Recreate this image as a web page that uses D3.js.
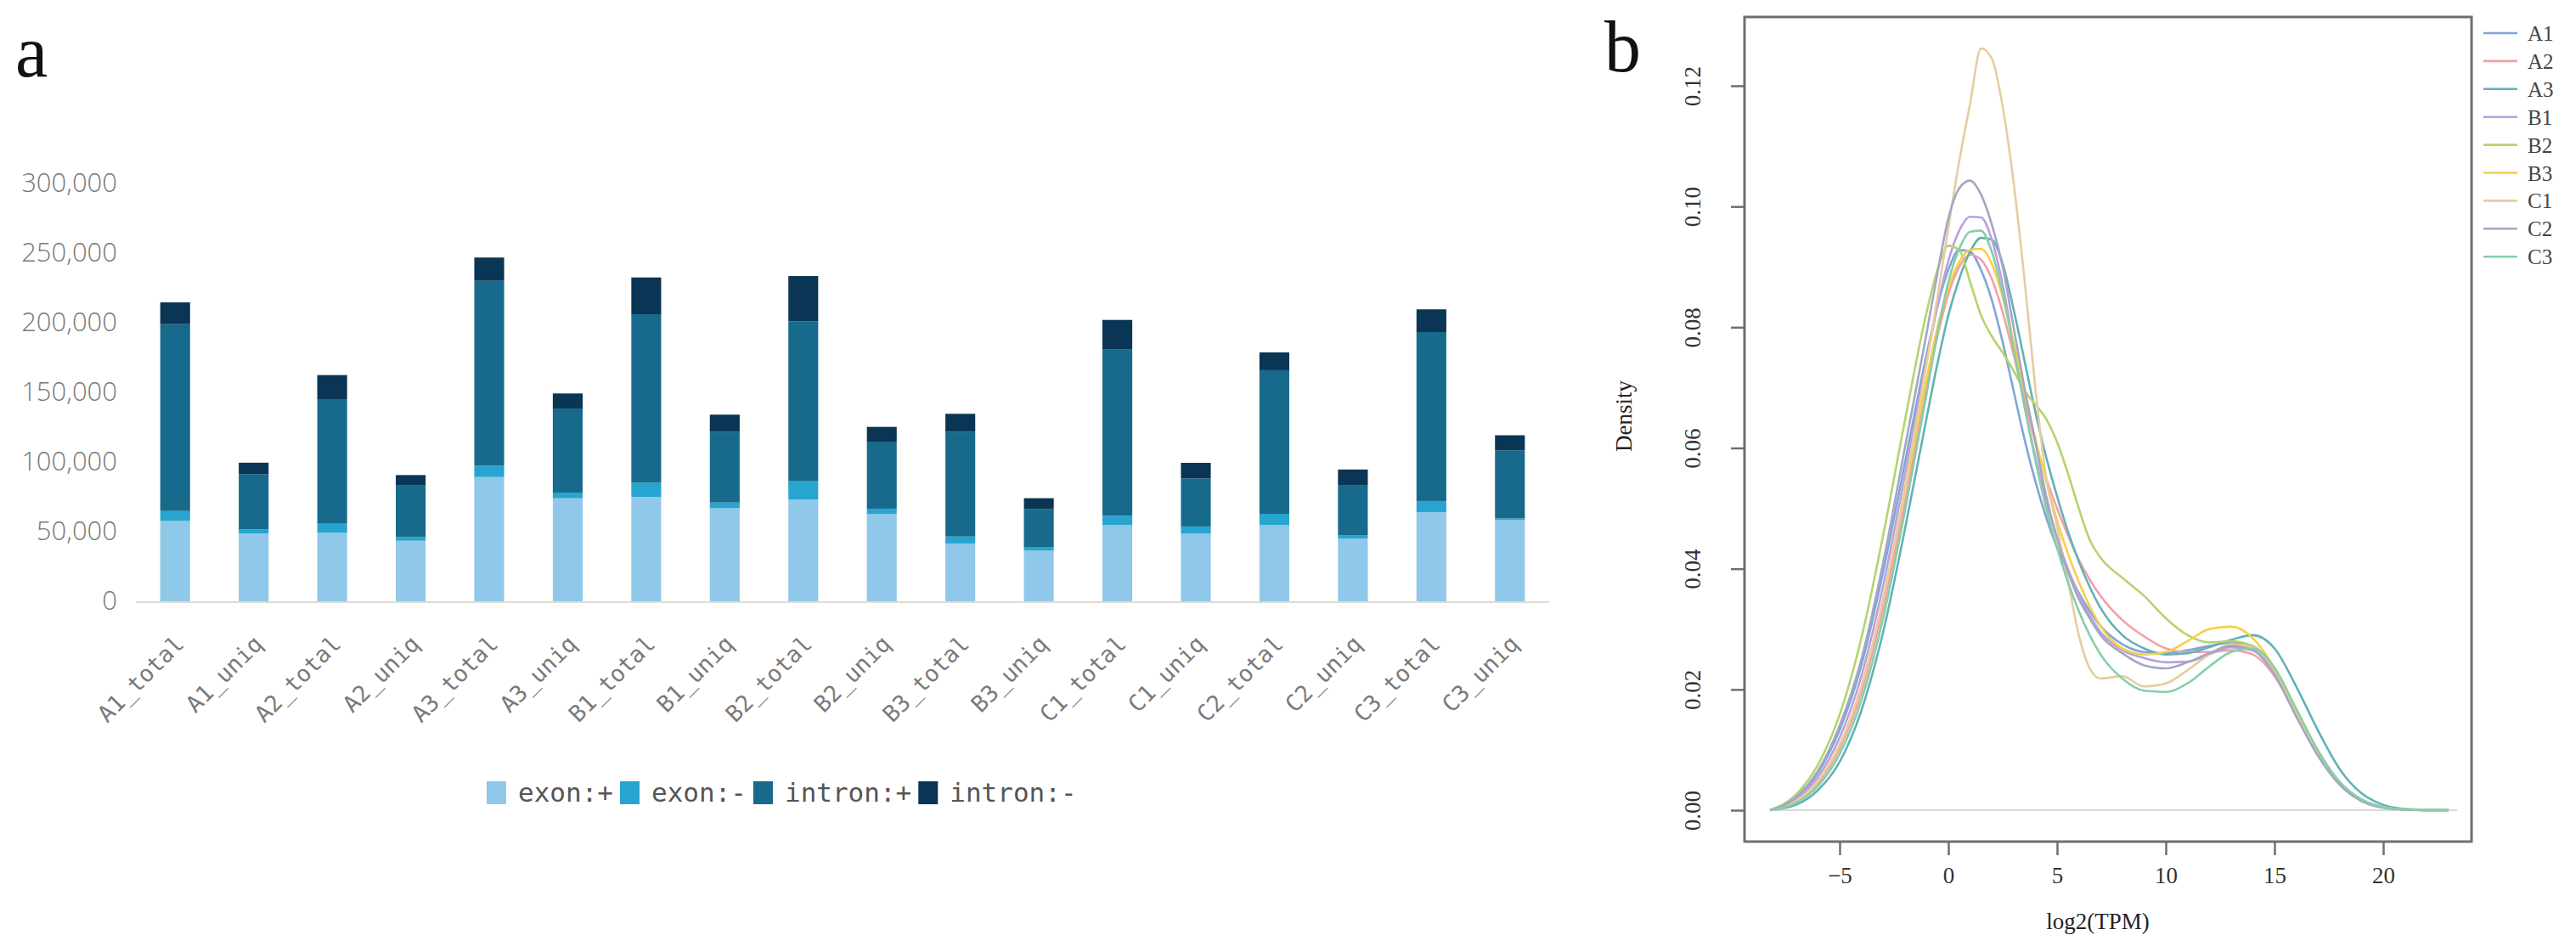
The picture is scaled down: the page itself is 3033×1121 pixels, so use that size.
<!DOCTYPE html>
<html>
<head>
<meta charset="utf-8">
<script src="https://cdn.jsdelivr.net/npm/d3@7"></script>
<style>
  html, body { margin: 0; padding: 0; background: #fff; }
  svg { display: block; }
</style>
</head>
<body>
<svg id="chart" width="3033" height="1121"></svg>
<script>
// ---------------- Panel a data ----------------
const categories = ["A1_total","A1_uniq","A2_total","A2_uniq","A3_total","A3_uniq",
  "B1_total","B1_uniq","B2_total","B2_uniq","B3_total","B3_uniq",
  "C1_total","C1_uniq","C2_total","C2_uniq","C3_total","C3_uniq"];
const seriesKeys = ["exon:+","exon:-","intron:+","intron:-"];
const exonPlus   = [57700,48600,49200,43500,89200,74000,75000,66900,73000,62800,41500,36400,54700,48600,54700,45000,64000,58400];
const exonMinus  = [7100,3000,6500,2600,8100,4000,10200,4000,13200,3700,5000,2600,6700,5100,8100,2500,8000,1100];
const intronPlus = [134200,39700,89400,37000,132800,60400,120900,50900,114800,48100,75300,27300,119300,34500,103100,36000,121300,48800];
const intronMinus= [15600,8200,17300,7500,16700,10800,26400,12200,32500,10600,12800,7700,21300,11200,12800,11100,16300,10900];
const barTicks = [0,50000,100000,150000,200000,250000,300000];

// ---------------- Panel b data ----------------
const tpmGrid = [-8.2,-7,-6,-5,-4,-3,-2,-1,-0.5,0,0.5,1,1.5,2,2.5,3,3.5,4,4.5,5,5.5,6,6.5,7,8,9,10,11,12,13,14,15,16,17,18,19,20,21,22,23];
const densA1 = [0,0.0021,0.0062,0.0133,0.0240,0.0395,0.0575,0.0755,0.0835,0.0895,0.0928,0.0925,0.0895,0.0845,0.0775,0.0695,0.0615,0.0545,0.0485,0.0435,0.0395,0.0360,0.0330,0.0305,0.0275,0.0262,0.0260,0.0265,0.0272,0.0278,0.0272,0.0232,0.0162,0.0095,0.0045,0.0017,0.0005,0.0001,0,0];
const densA2 = [0,0.0014,0.0045,0.0102,0.0195,0.0335,0.0510,0.0700,0.0785,0.0855,0.0900,0.0920,0.0912,0.0880,0.0825,0.0755,0.0680,0.0610,0.0550,0.0500,0.0455,0.0415,0.0382,0.0355,0.0315,0.0288,0.0268,0.0262,0.0262,0.0265,0.0258,0.0222,0.0158,0.0093,0.0044,0.0016,0.0005,0.0001,0,0];
const densA3 = [0,0.0009,0.0033,0.0080,0.0165,0.0295,0.0465,0.0650,0.0740,0.0820,0.0880,0.0925,0.0948,0.0945,0.0905,0.0830,0.0745,0.0660,0.0585,0.0520,0.0462,0.0412,0.0370,0.0335,0.0290,0.0268,0.0258,0.0260,0.0270,0.0282,0.0290,0.0268,0.0205,0.0132,0.0068,0.0028,0.0009,0.0002,0.00005,0];
const densB1 = [0,0.0018,0.0055,0.0120,0.0222,0.0372,0.0555,0.0745,0.0835,0.0910,0.0960,0.0983,0.0982,0.0945,0.0870,0.0770,0.0670,0.0585,0.0512,0.0452,0.0400,0.0358,0.0322,0.0295,0.0265,0.0252,0.0245,0.0246,0.0258,0.0270,0.0265,0.0228,0.0160,0.0094,0.0044,0.0016,0.0005,0.0001,0,0];
const densB2 = [0,0.0026,0.0075,0.0158,0.0285,0.0455,0.0645,0.0825,0.0895,0.0935,0.0928,0.0875,0.0820,0.0785,0.0758,0.0728,0.0695,0.0672,0.0648,0.0610,0.0558,0.0500,0.0448,0.0418,0.0385,0.0355,0.0318,0.0290,0.0278,0.0280,0.0272,0.0232,0.0162,0.0094,0.0044,0.0016,0.0005,0.0001,0,0];
const densB3 = [0,0.0015,0.0048,0.0108,0.0205,0.0350,0.0530,0.0715,0.0800,0.0865,0.0908,0.0928,0.0930,0.0905,0.0850,0.0775,0.0695,0.0615,0.0545,0.0480,0.0425,0.0378,0.0338,0.0305,0.0268,0.0258,0.0262,0.0280,0.0300,0.0304,0.0285,0.0235,0.0162,0.0094,0.0044,0.0016,0.0005,0.0001,0,0];
const densC1 = [0,0.0015,0.0048,0.0108,0.0205,0.0350,0.0535,0.0740,0.0850,0.0965,0.1075,0.1170,0.1262,0.1245,0.1165,0.1040,0.0880,0.0700,0.0550,0.0470,0.0380,0.0290,0.0235,0.0218,0.0222,0.0205,0.0210,0.0232,0.0258,0.0275,0.0270,0.0228,0.0158,0.0092,0.0043,0.0016,0.0005,0.0001,0,0];
const densC2 = [0,0.0022,0.0065,0.0140,0.0250,0.0410,0.0600,0.0790,0.0890,0.0980,0.1030,0.1043,0.1020,0.0970,0.0900,0.0800,0.0700,0.0610,0.0520,0.0450,0.0395,0.0350,0.0318,0.0290,0.0260,0.0240,0.0235,0.0245,0.0260,0.0272,0.0265,0.0225,0.0155,0.0090,0.0042,0.0015,0.0004,0.0001,0,0];
const densC3 = [0,0.0012,0.0040,0.0093,0.0182,0.0318,0.0495,0.0690,0.0790,0.0875,0.0930,0.0958,0.0960,0.0925,0.0855,0.0765,0.0670,0.0580,0.0500,0.0435,0.0378,0.0330,0.0290,0.0258,0.0218,0.0198,0.0196,0.0210,0.0238,0.0262,0.0268,0.0236,0.0168,0.0099,0.0047,0.0018,0.0005,0.0001,0,0];
const sampleNames = ["A1","A2","A3","B1","B2","B3","C1","C2","C3"];
const sampleDens = [densA1,densA2,densA3,densB1,densB2,densB3,densC1,densC2,densC3];
const xTicksB = [-5,0,5,10,15,20];
const yTicksB = [0,0.02,0.04,0.06,0.08,0.10,0.12];

// ---------------- Drawing ----------------
const svg = d3.select("#chart");

// ===== Panel a =====
const barColors = ["#8fc8e8","#27a4cf","#176a8b","#0a3554"];
const rows = categories.map((c,i)=>({cat:c,"exon:+":exonPlus[i],"exon:-":exonMinus[i],"intron:+":intronPlus[i],"intron:-":intronMinus[i]}));
const stacked = d3.stack().keys(seriesKeys)(rows);

const xA = d3.scaleBand().domain(categories).range([160,1824]).paddingInner(0.62).paddingOuter(0.31);
const yA = d3.scaleLinear().domain([0,300000]).range([708,216]);

svg.append("text").attr("x",18).attr("y",90)
  .attr("font-family","Liberation Serif, Times New Roman, serif").attr("font-size",86)
  .attr("fill","#111").text("a");

const gBars = svg.append("g");
gBars.selectAll("g.layer").data(stacked).join("g")
  .attr("fill",(d,i)=>barColors[i])
  .selectAll("rect").data(d=>d).join("rect")
  .attr("x",d=>xA(d.data.cat)).attr("width",xA.bandwidth())
  .attr("y",d=>yA(d[1])).attr("height",d=>yA(d[0])-yA(d[1]));

// baseline
svg.append("line").attr("x1",160).attr("x2",1824).attr("y1",yA(0)+1).attr("y2",yA(0)+1)
  .attr("stroke","#e2dbd2").attr("stroke-width",2);

// y axis labels
const yAxisA = d3.axisLeft(yA).tickValues(barTicks).tickFormat(d3.format(",")).tickSize(0).tickPadding(0);
const gy = svg.append("g").attr("transform","translate(138,0)").call(yAxisA);
gy.select(".domain").remove();
gy.selectAll("text").attr("font-family","Open Sans, Noto Sans, sans-serif").attr("font-weight",300)
  .attr("font-size",31).attr("fill","#7a7a7a");

// x axis labels
const xAxisA = d3.axisBottom(xA).tickSize(0).tickPadding(0);
const gx = svg.append("g").call(xAxisA);
gx.select(".domain").remove();
gx.selectAll(".tick text")
  .attr("font-family","DejaVu Sans Mono, Liberation Mono, monospace").attr("font-size",27)
  .attr("fill","#7a7a7a").attr("text-anchor","end")
  .attr("y",0).attr("dy",0)
  .attr("transform","translate(12,760) rotate(-45)");

// legend a
const legA = svg.append("g").attr("transform","translate(573,920)");
let lx = 0;
seriesKeys.forEach((k,i)=>{
  legA.append("rect").attr("x",lx).attr("y",0).attr("width",23).attr("height",27).attr("fill",barColors[i]);
  const t = legA.append("text").attr("x",lx+37).attr("y",24)
    .attr("font-family","DejaVu Sans Mono, Liberation Mono, monospace").attr("font-size",31)
    .attr("fill","#555").text(k);
  const w = t.node().getComputedTextLength();
  lx += 37 + w + 8;
});

// ===== Panel b =====
const xB = d3.scaleLinear().domain([0,20]).range([2294,2806]);
const yB = d3.scaleLinear().domain([0,0.12]).range([954,101]);
const lineColors = ["#7ea6d6","#f3a0a8","#62b2b6","#b9a0e0","#b4d46e","#f6cf45","#e6cca2","#a3a6c4","#86cfa6"];

svg.append("text").attr("x",1889).attr("y",84)
  .attr("font-family","Liberation Serif, Times New Roman, serif").attr("font-size",86)
  .attr("fill","#111").text("b");

// zero line
svg.append("line").attr("x1",xB(-8.2)).attr("x2",xB(23.4)).attr("y1",yB(0)).attr("y2",yB(0))
  .attr("stroke","#d8d8d8").attr("stroke-width",2);

const line = d3.line().x((d,i)=>xB(tpmGrid[i])).y(d=>yB(d)).curve(d3.curveMonotoneX);
svg.append("g").selectAll("path").data(sampleDens).join("path")
  .attr("d",d=>line(d)).attr("fill","none")
  .attr("stroke",(d,i)=>lineColors[i]).attr("stroke-width",2.6);

// frame
svg.append("rect").attr("x",2054).attr("y",20).attr("width",856).attr("height",971)
  .attr("fill","none").attr("stroke","#6f6f6f").attr("stroke-width",3);

// x axis b
const xAxisB = d3.axisBottom(xB).tickValues(xTicksB).tickFormat(d3.format("d")).tickSize(16).tickPadding(14);
const gxb = svg.append("g").attr("transform","translate(0,991)").call(xAxisB);
gxb.select(".domain").remove();
gxb.selectAll("line").attr("stroke","#6f6f6f").attr("stroke-width",2.5);
gxb.selectAll("text").attr("font-family","Liberation Serif, Times New Roman, serif")
  .attr("font-size",27).attr("fill","#333");

// y axis b
const yAxisB = d3.axisLeft(yB).tickValues(yTicksB).tickFormat(d3.format(".2f")).tickSize(16).tickPadding(0);
const gyb = svg.append("g").attr("transform","translate(2054,0)").call(yAxisB);
gyb.select(".domain").remove();
gyb.selectAll("line").attr("stroke","#6f6f6f").attr("stroke-width",2.5);
gyb.selectAll("text").attr("font-family","Liberation Serif, Times New Roman, serif")
  .attr("font-size",27).attr("fill","#333")
  .attr("x",0).attr("dy",0).attr("text-anchor","middle")
  .attr("transform","translate(-52,0) rotate(-90)");

// axis titles
svg.append("text").attr("transform","translate(1921,490) rotate(-90)").attr("text-anchor","middle")
  .attr("font-family","Liberation Serif, Times New Roman, serif").attr("font-size",27)
  .attr("fill","#222").text("Density");
svg.append("text").attr("x",2470).attr("y",1094).attr("text-anchor","middle")
  .attr("font-family","Liberation Serif, Times New Roman, serif").attr("font-size",27)
  .attr("fill","#222").text("log2(TPM)");

// legend b
const legB = svg.append("g");
sampleNames.forEach((n,i)=>{
  const y = 39 + i*32.9;
  legB.append("line").attr("x1",2924).attr("x2",2964).attr("y1",y).attr("y2",y)
    .attr("stroke",lineColors[i]).attr("stroke-width",2.6);
  legB.append("text").attr("x",2976).attr("y",y+9)
    .attr("font-family","Liberation Serif, Times New Roman, serif").attr("font-size",25)
    .attr("fill","#444").text(n);
});
</script>
</body>
</html>
